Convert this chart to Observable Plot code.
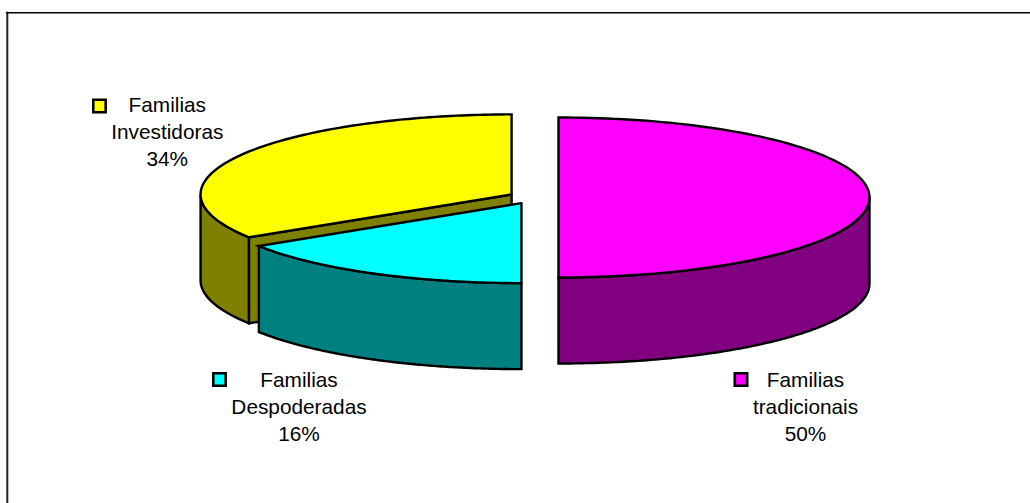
<!DOCTYPE html>
<html>
<head>
<meta charset="utf-8">
<script src="https://cdn.jsdelivr.net/npm/d3@7"></script>
<script src="https://cdn.jsdelivr.net/npm/@observablehq/plot@0.6"></script>
<style>
  html, body { margin: 0; padding: 0; background: #fff; overflow: hidden; }
  svg { display: block; }
</style>
</head>
<body>
<div id="chart"></div>
<script>
// Clockwise from twelve o'clock, as the slices are laid out
const categories = ["Familias tradicionais", "Familias Despoderadas", "Familias Investidoras"];
const shares = [50, 16, 34];
const topColors = ["#ff00ff", "#00ffff", "#ffff00"];
const wallColors = ["#800080", "#008080", "#808000"];
const labelLines = [["Familias", "tradicionais", "50%"], ["Familias", "Despoderadas", "16%"], ["Familias", "Investidoras", "34%"]];

// Legend key and label placement, in page pixels
const keyPositions = [[740.5, 379], [219, 379], [99, 105.5]];
const labelPositions = [[805, 386], [298.5, 386], [166.8, 111.7]];
const lineStep = 27;

// Tilted disc geometry
const disc = {cx: 533, cy: 197, a: 311, b: 80, depth: 86, explode: 25};
const turn = 2 * Math.PI;

const total = d3.sum(shares);
let running = 0;
const slices = shares.map((v, i) => {
  const start = running / total * turn;
  running += v;
  const end = running / total * turn;
  const mid = (start + end) / 2;
  return {
    i, start, end,
    cx: disc.cx + disc.explode * Math.sin(mid),
    cy: disc.cy - disc.explode * (disc.b / disc.a) * Math.cos(mid)
  };
});

const rim = (s, t, drop = 0) => ({
  x: s.cx + disc.a * Math.sin(t),
  y: s.cy - disc.b * Math.cos(t) + drop
});
const arc = (s, t0, t1, drop = 0) =>
  d3.range(0, 121).map(k => rim(s, t0 + (t1 - t0) * k / 120, drop));

// Top face of a slice
const topFace = s => {
  const apex = {x: s.cx, y: s.cy};
  return [apex, ...arc(s, s.start, s.end), apex];
};
// Curved outer wall between two angles
const outerWall = (s, t0, t1) => {
  const upper = arc(s, t0, t1);
  const lower = arc(s, t1, t0, disc.depth);
  return [...upper, ...lower, upper[0]];
};
// Flat cut face running from the apex to the rim at angle t
const cutFace = (s, t) => {
  const apex = {x: s.cx, y: s.cy};
  const edge = rim(s, t);
  return [apex, edge, {x: edge.x, y: edge.y + disc.depth}, {x: apex.x, y: apex.y + disc.depth}, apex];
};

const [trad, desp, inv] = slices;
// Painted back to front
const parts = [
  {points: outerWall(inv, inv.start, 1.5 * Math.PI), fill: wallColors[2]},
  {points: cutFace(inv, inv.start), fill: wallColors[2]},
  {points: topFace(inv), fill: topColors[2]},
  {points: outerWall(trad, 0.5 * Math.PI, Math.PI), fill: wallColors[0]},
  {points: topFace(trad), fill: topColors[0]},
  {points: outerWall(desp, desp.start, desp.end), fill: wallColors[1]},
  {points: topFace(desp), fill: topColors[1]}
];

const faceMarks = parts.map(p =>
  Plot.line(p.points, {
    x: "x", y: "y", fill: p.fill, stroke: "#000", strokeWidth: 2.4,
    strokeLinejoin: "miter", strokeMiterlimit: 4, curve: "linear"
  })
);

const labels = labelLines.flatMap((lines, i) =>
  lines.map((text, k) => ({
    text,
    x: labelPositions[i][0],
    y: labelPositions[i][1] + k * lineStep
  }))
);
const keys = keyPositions.map((p, i) => ({x: p[0], y: p[1], fill: topColors[i], name: categories[i]}));

const chart = Plot.plot({
  width: 1030,
  height: 503,
  margin: 0,
  x: {domain: [0, 1030], range: [0, 1030], axis: null},
  y: {domain: [0, 503], range: [0, 503], axis: null},
  style: {background: "#fff", overflow: "hidden"},
  marks: [
    // Outer frame: only its left and top edges fall inside the page
    Plot.line([{x: 6.8, y: 503}, {x: 6.8, y: 12}], {x: "x", y: "y", stroke: "#222", strokeWidth: 2}),
    Plot.line([{x: 6, y: 12.3}, {x: 1030, y: 12.3}], {x: "x", y: "y", stroke: "#000", strokeWidth: 1.5}),
    ...faceMarks,
    Plot.dot(keys, {
      x: "x", y: "y", symbol: "square", r: 7,
      fill: "fill", stroke: "#000", strokeWidth: 2.6
    }),
    Plot.text(labels, {
      x: "x", y: "y", text: "text", textAnchor: "middle", lineAnchor: "bottom",
      fontFamily: "Liberation Sans", fontSize: 20.8, fill: "#000"
    })
  ]
});
document.getElementById("chart").appendChild(chart);
</script>
</body>
</html>
